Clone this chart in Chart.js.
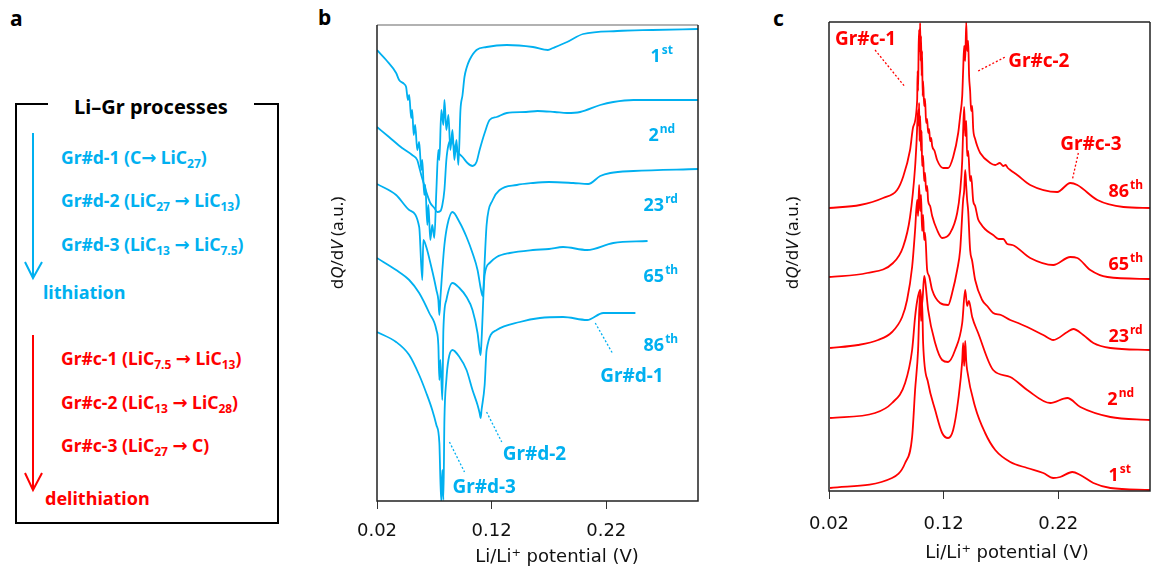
<!DOCTYPE html>
<html>
<head>
<meta charset="utf-8">
<script src="https://cdn.jsdelivr.net/npm/chart.js@4"></script>
<style>
  body { margin: 0; background: #fff; width: 1151px; height: 575px; overflow: hidden; position: relative; font-family: "Noto Sans", sans-serif; }
  .abs { position: absolute; white-space: nowrap; }
  .tag { font-weight: bold; font-size: 21px; line-height: 24px; color: #000; }
  .ln { font-weight: bold; font-size: 17.5px; line-height: 24px; }
  .big { font-weight: bold; font-size: 18px; line-height: 24px; }
  .blue { color: #00b0f0; }
  .red { color: #ff0000; }
  .arr { font-family: "DejaVu Sans", sans-serif; font-size: 18px; font-weight: bold; }
  sub { font-size: 12px; vertical-align: -4px; line-height: 0; }
  .wrap { position: absolute; top: 0; height: 575px; }
</style>
</head>
<body>

<!-- panel a -->
<svg class="abs" style="left:0;top:0" width="300" height="575">
  <polyline points="48,104 16,104 16,523 278,523 278,104 254,104" fill="none" stroke="#000" stroke-width="2"/>
  <line x1="33" y1="133" x2="33" y2="277" stroke="#00b0f0" stroke-width="2"/>
  <polyline points="25,262 33,278 42,262" fill="none" stroke="#00b0f0" stroke-width="2"/>
  <line x1="33" y1="335" x2="33" y2="489" stroke="#ff0000" stroke-width="2"/>
  <polyline points="25,473 33,490 42,473" fill="none" stroke="#ff0000" stroke-width="2"/>
</svg>
<div class="abs tag" style="left:10px;top:6px">a</div>
<div class="abs big" style="left:48px;width:206px;top:95px;text-align:center;color:#000;font-size:20px">Li–Gr processes</div>
<div class="abs ln blue" style="left:61px;top:145px">Gr#d-1 (C<span class="arr">→</span> LiC<sub>27</sub>)</div>
<div class="abs ln blue" style="left:61px;top:188px">Gr#d-2 (LiC<sub>27</sub> <span class="arr">→</span> LiC<sub>13</sub>)</div>
<div class="abs ln blue" style="left:61px;top:232px">Gr#d-3 (LiC<sub>13</sub> <span class="arr">→</span> LiC<sub>7.5</sub>)</div>
<div class="abs big blue" style="left:43px;top:280px">lithiation</div>
<div class="abs ln red" style="left:61px;top:346px">Gr#c-1 (LiC<sub>7.5</sub> <span class="arr">→</span> LiC<sub>13</sub>)</div>
<div class="abs ln red" style="left:61px;top:390px">Gr#c-2 (LiC<sub>13</sub> <span class="arr">→</span> LiC<sub>28</sub>)</div>
<div class="abs ln red" style="left:61px;top:433px">Gr#c-3 (LiC<sub>27</sub> <span class="arr">→</span> C)</div>
<div class="abs big red" style="left:45px;top:486px">delithiation</div>

<div class="abs tag" style="left:318px;top:5px">b</div>
<div class="abs tag" style="left:773px;top:6px">c</div>

<div class="wrap" style="left:300px;width:410px"><canvas id="chartB"></canvas></div>
<div class="wrap" style="left:760px;width:391px"><canvas id="chartC"></canvas></div>

<script>
// ---- data (x: V vs Li/Li+, y: dQ/dV in a.u., offset per cycle) ----
const xTicks = [0.02, 0.12, 0.22];

// b: lithiation
const vB1 = [0.020,0.028,0.0367,0.0393,0.0437,0.0454,0.047,0.0481,0.0498,0.0507,0.052,0.0533,0.0551,0.0568,0.0586,0.0595,0.0612,0.0621,0.0639,0.0648,0.0665,0.0682,0.0700,0.0718,0.0735,0.0744,0.0761,0.0779,0.0788,0.0805,0.0823,0.0840,0.0858,0.0875,0.0893,0.0910,0.0928,0.0946,0.0963,0.0981,0.1007,0.1068,0.1156,0.1332,0.1560,0.1691,0.1735,0.1858,0.1998,0.2296,0.2600,0.300];
const qB1 = [451,441,428,421,417,414,401,406,383,391,366,376,351,359,331,341,306,316,276,296,261,276,263,311,351,341,391,376,401,371,386,351,371,341,361,336,391,406,424,433,441,451,454,456,454,451,453,459,467,470,471,472];

const vB2 = [0.020,0.0305,0.0419,0.0507,0.0551,0.0568,0.0586,0.0612,0.0639,0.0665,0.0700,0.0726,0.0753,0.0770,0.0788,0.0805,0.0823,0.0849,0.0875,0.0902,0.0946,0.0989,0.1033,0.1068,0.1095,0.1139,0.1182,0.1244,0.1332,0.1500,0.1600,0.1750,0.1858,0.1972,0.2147,0.2261,0.2437,0.300];
const qB2 = [374,364,353,346,341,334,326,316,306,298,293,289,290,296,311,341,356,361,354,349,344,338,335,339,351,368,381,384,388,389,390,389,388,389,396,399,401,401];

const vB23 = [0.020,0.0367,0.0481,0.0568,0.0595,0.0604,0.0630,0.0674,0.0700,0.0718,0.0735,0.0744,0.0753,0.0770,0.0788,0.0814,0.0858,0.0919,0.0981,0.1033,0.1077,0.1104,0.1121,0.1130,0.1139,0.1156,0.1209,0.1270,0.1419,0.1560,0.1700,0.1911,0.2042,0.2147,0.2235,0.2437,0.300];
const qB23 = [317,306,291,274,221,261,254,234,221,211,201,186,203,231,256,276,289,279,264,248,231,213,205,216,239,276,301,311,316,318,319,318,317,325,328,330,332];

const vB65 = [0.020,0.0367,0.0481,0.0568,0.0656,0.0718,0.0735,0.0744,0.0753,0.0770,0.0779,0.0805,0.0858,0.0919,0.0981,0.1033,0.1077,0.1095,0.1104,0.1112,0.1139,0.1182,0.1244,0.1358,0.1560,0.1700,0.1823,0.2033,0.2261,0.2560];
const qB65 = [243,231,221,208,188,171,156,121,141,101,171,201,218,213,204,191,168,151,146,161,226,238,244,248,251,252,254,251,258,260];

const vB86 = [0.020,0.0367,0.0481,0.0568,0.0630,0.0682,0.0718,0.0744,0.0753,0.0761,0.0770,0.0779,0.0788,0.0805,0.0823,0.0858,0.0919,0.0981,0.1033,0.1077,0.1095,0.1104,0.1112,0.1139,0.1156,0.1244,0.1446,0.1621,0.1823,0.2033,0.2174,0.2454];
const qB86 = [169,159,146,126,108,91,76,58,21,0,31,1,81,121,141,151,144,131,111,96,88,83,91,116,151,171,179,183,184,181,188,188];

// c: delithiation
const vC1 = [0.0209,0.0750,0.0864,0.0925,0.0951,0.0977,0.0995,0.1003,0.1012,0.1021,0.1065,0.1126,0.1187,0.1239,0.1283,0.1327,0.1362,0.1370,0.1379,0.1388,0.1397,0.1405,0.1475,0.1562,0.1650,0.1781,0.1929,0.2069,0.2156,0.2217,0.2322,0.2392,0.2506,0.2654,0.300];
const qC1 = [3,13,28,54,101,141,201,170,190,148,108,81,58,53,61,91,130,148,125,150,130,121,84,58,41,29,23,18,13,14,19,16,8,3,1];

const vC2 = [0.0209,0.0602,0.0750,0.0864,0.0925,0.0951,0.0969,0.0995,0.1012,0.1030,0.1038,0.1065,0.1126,0.1187,0.1239,0.1300,0.1362,0.1388,0.1405,0.1420,0.1449,0.1501,0.1632,0.1781,0.1929,0.2130,0.2279,0.2392,0.2654,0.300];
const qC2 = [73,78,88,108,141,174,190,201,186,215,211,181,148,131,129,141,168,201,185,190,174,158,121,114,101,88,93,84,74,71];

const vC23 = [0.0209,0.0453,0.0628,0.0750,0.0838,0.0881,0.0925,0.0951,0.0969,0.0977,0.0986,0.0995,0.1003,0.1012,0.1021,0.1030,0.1038,0.1056,0.1073,0.1100,0.1169,0.1239,0.1274,0.1318,0.1344,0.1370,0.1379,0.1388,0.1397,0.1405,0.1414,0.1431,0.1449,0.1475,0.1536,0.1580,0.1632,0.1700,0.1781,0.1850,0.1929,0.2069,0.2156,0.2279,0.2331,0.2418,0.2506,0.2654,0.300];
const qC23 = [143,146,151,159,174,191,224,261,291,275,306,280,296,260,276,251,258,221,215,201,188,186,198,221,241,291,300,321,305,291,280,241,230,211,191,185,178,176,171,168,164,156,151,159,162,156,148,143,141];

const vC65 = [0.020,0.0532,0.0759,0.0846,0.0907,0.0951,0.0964,0.0977,0.0982,0.0986,0.0990,0.0995,0.1003,0.1008,0.1012,0.1021,0.1030,0.1038,0.1047,0.1056,0.1065,0.1082,0.1100,0.1143,0.1187,0.1257,0.1318,0.1344,0.1362,0.1370,0.1379,0.1388,0.1397,0.1405,0.1414,0.1431,0.1440,0.1458,0.1475,0.1500,0.1519,0.1560,0.1632,0.1680,0.1720,0.1755,0.1800,0.1955,0.2156,0.2305,0.2366,0.2479,0.2628,0.300];
const qC65 = [214,218,228,244,274,324,350,381,365,388,350,375,340,360,325,335,310,318,300,305,290,285,275,261,253,258,278,300,330,360,384,355,370,335,340,310,315,290,285,272,268,262,256,252,252,247,246,233,226,234,233,221,214,212];

const vC86 = [0.020,0.0471,0.0672,0.0794,0.0846,0.0907,0.0934,0.0969,0.0973,0.0977,0.0982,0.0986,0.0990,0.0995,0.0999,0.1003,0.1008,0.1012,0.1017,0.1021,0.1030,0.1038,0.1047,0.1056,0.1065,0.1073,0.1082,0.1091,0.1100,0.1121,0.1143,0.1196,0.1239,0.1283,0.1327,0.1344,0.1362,0.1370,0.1379,0.1388,0.1397,0.1405,0.1414,0.1422,0.1431,0.1440,0.1449,0.1458,0.1475,0.1493,0.1519,0.1606,0.1650,0.1690,0.1720,0.1740,0.1760,0.1781,0.1842,0.1955,0.2191,0.2305,0.2366,0.2541,0.2768,0.300];
const qC86 = [283,286,293,301,314,341,364,391,420,400,445,461,440,468,430,455,415,440,395,410,385,392,368,372,358,362,350,353,345,340,331,323,323,334,358,375,395,420,445,430,469,440,450,415,400,380,385,362,352,345,338,328,326,328,325,326,323,321,316,306,299,308,306,291,284,283];

const cycles = [['1', 'st'], ['2', 'nd'], ['23', 'rd'], ['65', 'th'], ['86', 'th']];

const BLUE = '#00b0f0';
const RED = '#ff0000';
const FONT = '"Noto Sans"';
const AXFONT = '"DejaVu Sans"';

function pts(xs, ys) {
  return xs.map((v, i) => ({ x: v, y: ys[i] }));
}

function supText(ctx, x, y, base, sup, size) {
  ctx.font = 'bold ' + size + 'px ' + FONT;
  ctx.fillText(base, x, y);
  let w = ctx.measureText(base).width;
  ctx.font = 'bold ' + Math.round(size * 0.65) + 'px ' + FONT;
  ctx.fillText(sup, x + w + 1, y - size * 0.42);
}

function yTitle(ctx, cx, cy) {
  const parts = [['d', ''], ['Q', 'italic '], ['/d', ''], ['V', 'italic '], [' (a.u.)', '']];
  ctx.save();
  ctx.translate(cx, cy);
  ctx.rotate(-Math.PI / 2);
  ctx.fillStyle = '#111';
  ctx.textBaseline = 'middle';
  let total = 0;
  parts.forEach(p => { ctx.font = p[1] + '17px ' + FONT; total += ctx.measureText(p[0]).width; });
  let xx = -total / 2;
  parts.forEach(p => {
    ctx.font = p[1] + '17px ' + FONT;
    ctx.fillText(p[0], xx, 0);
    xx += ctx.measureText(p[0]).width;
  });
  ctx.restore();
}

// frame, axis titles, cycle labels and peak tags
const panelPlugin = {
  id: 'panel',
  afterDraw(chart, args, o) {
    const { ctx, chartArea: a, scales: { x, y } } = chart;
    ctx.save();
    ctx.lineWidth = 1.5;
    ctx.strokeStyle = o.topColor;
    ctx.beginPath(); ctx.moveTo(a.left, a.top); ctx.lineTo(a.right, a.top); ctx.stroke();
    ctx.strokeStyle = '#222';
    ctx.beginPath();
    ctx.moveTo(a.right, a.top); ctx.lineTo(a.right, a.bottom);
    ctx.lineTo(a.left, a.bottom); ctx.lineTo(a.left, a.top);
    ctx.stroke();

    yTitle(ctx, o.titleX, o.titleY);

    ctx.fillStyle = '#111';
    ctx.font = '18px ' + AXFONT;
    ctx.textAlign = 'center';
    ctx.textBaseline = 'middle';
    ctx.fillText('Li/Li⁺ potential (V)', o.xTitle[0], o.xTitle[1]);
    ctx.textAlign = 'left';

    ctx.fillStyle = o.color;
    ctx.textBaseline = 'alphabetic';
    o.cycleAt.forEach((p, i) => {
      supText(ctx, x.getPixelForValue(p[0]), y.getPixelForValue(p[1]), cycles[i][0], cycles[i][1], 18);
    });

    ctx.strokeStyle = o.color;
    ctx.lineWidth = 1.3;
    ctx.setLineDash([2, 2]);
    o.peaks.forEach(p => {
      ctx.font = 'bold 19px ' + FONT;
      ctx.fillText(p.text, x.getPixelForValue(p.at[0]), y.getPixelForValue(p.at[1]));
      ctx.beginPath();
      ctx.moveTo(x.getPixelForValue(p.lead[0]), y.getPixelForValue(p.lead[1]));
      ctx.lineTo(x.getPixelForValue(p.lead[2]), y.getPixelForValue(p.lead[3]));
      ctx.stroke();
    });
    ctx.restore();
  }
};

function makeChart(id, series, color, yMax, pad, tickPad, panel) {
  return new Chart(document.getElementById(id), {
    type: 'line',
    data: {
      datasets: series.map(s => ({
        data: pts(s[0], s[1]),
        borderColor: color,
        borderWidth: 1.8,
        pointRadius: 0,
        cubicInterpolationMode: 'monotone'
      }))
    },
    options: {
      responsive: true,
      maintainAspectRatio: false,
      animation: false,
      layout: { padding: pad },
      plugins: { legend: { display: false }, tooltip: { enabled: false }, panel: panel },
      scales: {
        x: {
          type: 'linear', min: 0.02, max: 0.30,
          afterBuildTicks: s => { s.ticks = xTicks.map(v => ({ value: v })); },
          ticks: { callback: v => v.toFixed(2), font: { size: 18, family: 'DejaVu Sans' }, color: '#111', padding: tickPad, maxRotation: 0, autoSkip: false },
          grid: { display: true, drawOnChartArea: false, drawTicks: true, tickLength: 8, color: '#333' },
          border: { display: false }
        },
        y: { display: false, min: 0, max: yMax }
      }
    },
    plugins: [panelPlugin]
  });
}

makeChart('chartB',
  [[vB1, qB1], [vB2, qB2], [vB23, qB23], [vB65, qB65], [vB86, qB86]],
  BLUE, 476,
  { left: 77, right: 12, top: 25, bottom: 20.4 }, 12,
  {
    color: BLUE, topColor: '#999', titleX: 38, titleY: 243, xTitle: [257, 557],
    cycleAt: [[0.2586, 439], [0.2568, 360], [0.2525, 290], [0.2525, 219], [0.2525, 150]],
    peaks: [
      { text: 'Gr#d-1', at: [0.2147, 119], lead: [0.2104, 178, 0.2253, 148] },
      { text: 'Gr#d-2', at: [0.1296, 41], lead: [0.1156, 89, 0.1288, 59] },
      { text: 'Gr#d-3', at: [0.0858, 8], lead: [0.0832, 59, 0.0963, 29] }
    ]
  });

makeChart('chartC',
  [[vC1, qC1], [vC2, qC2], [vC23, qC23], [vC65, qC65], [vC86, qC86]],
  RED, 469,
  { left: 69, right: 1, top: 22, bottom: 25.8 }, 14.3,
  {
    color: RED, topColor: '#222', titleX: 33, titleY: 243, xTitle: [247, 553],
    cycleAt: [[0.2637, 10], [0.2628, 86], [0.2637, 149], [0.2637, 221], [0.2637, 294]],
    peaks: [
      { text: 'Gr#c-1', at: [0.0252, 446], lead: [0.0602, 441, 0.0864, 404] },
      { text: 'Gr#c-2', at: [0.1763, 424], lead: [0.1501, 420, 0.1737, 434] },
      { text: 'Gr#c-3', at: [0.2217, 341], lead: [0.2375, 338, 0.2322, 311] }
    ]
  });
</script>
</body>
</html>
